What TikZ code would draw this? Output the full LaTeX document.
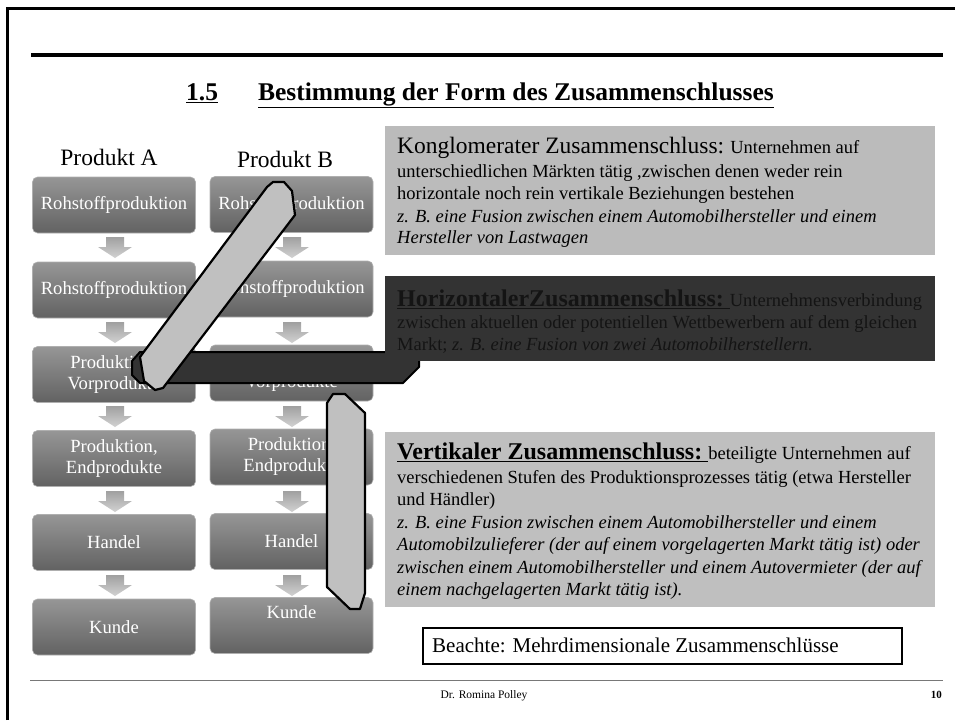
\documentclass[tikz,border=0pt]{standalone}
\usepackage{fontspec}
\setmainfont{Liberation Serif}
\definecolor{boxtop}{RGB}{150,150,150}
\definecolor{boxbot}{RGB}{98,98,98}
\definecolor{boxedge}{RGB}{175,175,175}
\definecolor{arrtop}{RGB}{160,160,160}
\definecolor{arrbot}{RGB}{210,210,210}
\definecolor{kfill}{RGB}{187,187,187}
\definecolor{hfill}{RGB}{51,51,51}
\definecolor{htext}{RGB}{20,20,20}
\definecolor{vfill}{RGB}{191,191,191}
\definecolor{bandfill}{RGB}{192,192,192}
\definecolor{footgray}{RGB}{120,120,120}
\begin{document}
\begin{tikzpicture}[x=1pt,y=-1pt,
  stepbox/.style={rectangle, rounded corners=5pt, minimum width=163pt, minimum height=56pt, inner sep=0pt,
    top color=boxtop, bottom color=boxbot, draw=boxedge, line width=0.6pt, text=white,
    font=\fontsize{18.6}{21}\selectfont, align=center},
  steptext/.style={inner sep=0pt, text=white, font=\fontsize{18.6}{21}\selectfont, align=center},
  txt/.style={anchor=base west, inner sep=0pt, font=\fontsize{18.5}{21}\selectfont},
  bandstyle/.style={fill=bandfill, draw=black, line width=2.2pt, line join=round},
  darrow/.pic={\shade[top color=arrtop, bottom color=arrbot]
    (-9,0) -- (9,0) -- (9,10) -- (17,10) -- (0,21) -- (-17,10) -- (-9,10) -- cycle;}
]
\useasboundingbox (0,0) rectangle (955,720);
% frame and rules
\draw[line width=3pt] (7.5,720) -- (7.5,8.5) -- (955,8.5);
\draw[line width=4.5pt] (31,55) -- (943,55);
\draw[footgray, line width=1pt] (30,680) -- (943,680);
% title
\node[anchor=base, inner sep=0pt, font=\bfseries\fontsize{25.5}{28}\selectfont] (title) at (480,100)
  {\underline{1.5}\hspace{40pt}\underline{Bestimmung der Form des Zusammenschlusses}};
% product labels
\node[anchor=base, inner sep=0pt, font=\fontsize{23.5}{26}\selectfont] (prodA) at (109,165) {Produkt A};
\node[anchor=base, inner sep=0pt, font=\fontsize{23.5}{26}\selectfont] (prodB) at (285,167) {Produkt B};
% column A
\node[stepbox] (a1) at (114,205) {Rohstoffproduktion};
\node[stepbox] (a2) at (114,290) {Rohstoffproduktion};
\node[stepbox] (a3) at (114,374.5) {Produktion,\\Vorprodukte};
\node[stepbox] (a4) at (114,458.5) {Produktion,\\Endprodukte};
\node[stepbox] (a5) at (114,542.5) {Handel};
\node[stepbox] (a6) at (114,627) {Kunde};
% column B
\node[stepbox] (b1) at (291.5,204.5) {Rohstoffproduktion};
\node[stepbox] (b2) at (291.5,289) {Rohstoffproduktion};
\node[stepbox] (b3) at (291.5,373) {Produktion,\\Vorprodukte};
\node[stepbox] (b4) at (291.5,457) {Produktion,\\Endprodukte};
\node[stepbox] (b5) at (291.5,541.5) {Handel};
\node[stepbox] (b6) at (291.5,625.5) {};
\node[steptext] (b6t) at (291.5,612) {Kunde};
% arrows
\foreach \y in {237,322,406,491,575} {
  \pic at (115,\y) {darrow};
  \pic at (292,\y) {darrow};
}
% horizontal connector bar
\filldraw[fill=hfill, draw=black, line width=2pt, line join=round]
  (140,352) -- (419,352) -- (419,367) -- (403,383) -- (140,383) -- (132,375) -- (132,361) -- cycle;
% diagonal band
\filldraw[bandstyle] (267,187) -- (273,182) -- (284,182) -- (292,191) -- (295,215)
  -- (163,388) -- (155,390) -- (144,381) -- (140,357) -- cycle;
% vertical band
\filldraw[bandstyle] (327,403) -- (333,394) -- (345,394) -- (365,413) -- (365,593)
  -- (360,609) -- (350,609) -- (327,587) -- cycle;
% right boxes
\node[rectangle, fill=kfill, inner sep=0pt, minimum width=550pt, minimum height=129pt, anchor=north west] (kbox) at (385,126) {};
\node[rectangle, fill=hfill, inner sep=0pt, minimum width=550pt, minimum height=85pt, anchor=north west] (hbox) at (385,276) {};
\node[rectangle, fill=vfill, inner sep=0pt, minimum width=550pt, minimum height=175pt, anchor=north west] (vbox) at (385,432) {};
% Konglomerat text
\node[txt] (k1) at (397,153) {{\fontsize{23.5}{26}\selectfont Konglomerater Zusammenschluss:} Unternehmen auf};
\node[txt] (k2) at (397,177) {unterschiedlichen Märkten tätig ,zwischen denen weder rein};
\node[txt] (k3) at (397,199) {horizontale noch rein vertikale Beziehungen bestehen};
\node[txt] (k4) at (397,222) {\itshape z. B. eine Fusion zwischen einem Automobilhersteller und einem};
\node[txt] (k5) at (397,243) {\itshape Hersteller von Lastwagen};
% Horizontal text
\node[txt, text=htext] (h1) at (397,306) {{\bfseries\fontsize{24}{26}\selectfont\underline{HorizontalerZusammenschluss:\ }}Unternehmensverbindung};
\node[txt, text=htext] (h2) at (397,328) {zwischen aktuellen oder potentiellen Wettbewerbern auf dem gleichen};
\node[txt, text=htext] (h3) at (397,350) {Markt; \itshape z. B. eine Fusion von zwei Automobilherstellern.};
% Vertical text
\node[txt] (v1) at (397,459) {{\bfseries\fontsize{24}{26}\selectfont\underline{Vertikaler Zusammenschluss:\ }}beteiligte Unternehmen auf};
\node[txt] (v2) at (397,483) {verschiedenen Stufen des Produktionsprozesses tätig (etwa Hersteller};
\node[txt] (v3) at (397,505) {und Händler)};
\node[txt] (v4) at (397,528) {\itshape z. B. eine Fusion zwischen einem Automobilhersteller und einem};
\node[txt] (v5) at (397,550) {\itshape Automobilzulieferer (der auf einem vorgelagerten Markt tätig ist) oder};
\node[txt] (v6) at (397,573) {\itshape zwischen einem Automobilhersteller und einem Autovermieter (der auf};
\node[txt] (v7) at (397,595) {\itshape einem nachgelagerten Markt tätig ist).};
% Beachte box
\node[rectangle, draw=black, line width=2pt, inner sep=0pt, minimum width=479pt, minimum height=36pt, anchor=north west] (beachte) at (422,627) {};
\node[anchor=base west, inner sep=0pt, font=\fontsize{21}{24}\selectfont] (beachtetext) at (432,652) {Beachte: Mehrdimensionale Zusammenschlüsse};
% footer
\node[anchor=base, inner sep=0pt, font=\fontsize{11.5}{13}\selectfont] (footer) at (484,698) {Dr. Romina Polley};
\node[anchor=base east, inner sep=0pt, font=\bfseries\fontsize{11}{13}\selectfont] (pagenum) at (942,698) {10};
\end{tikzpicture}
\end{document}
